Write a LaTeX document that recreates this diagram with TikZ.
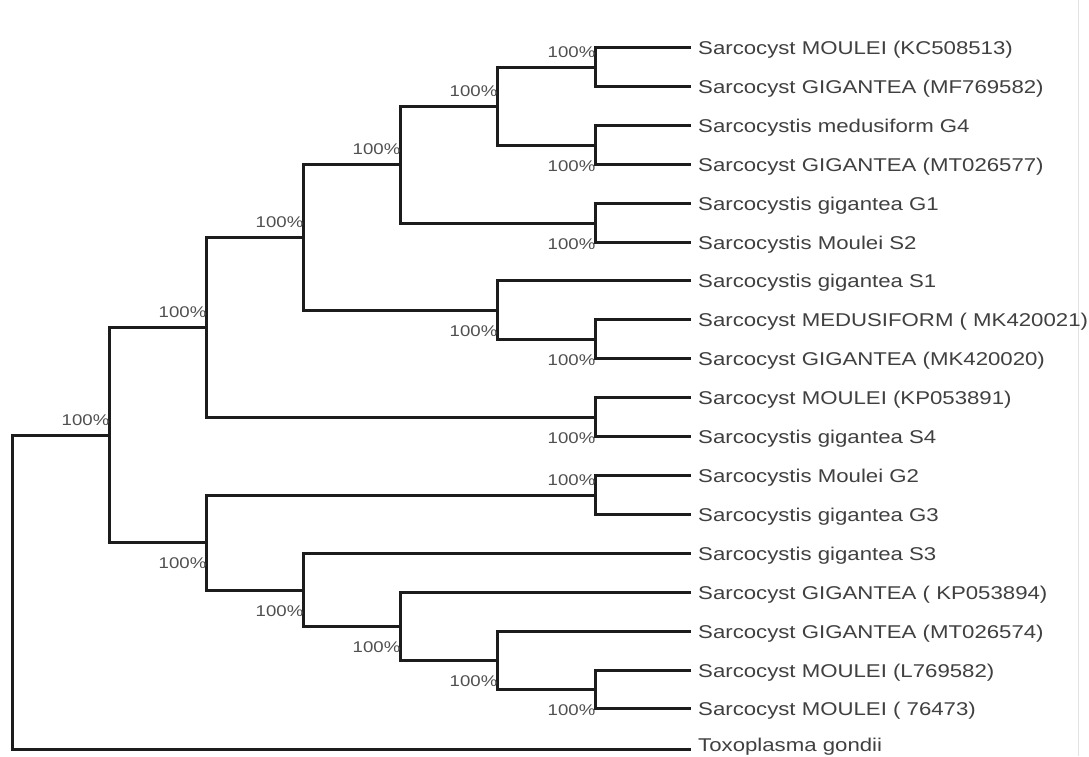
\documentclass[tikz,border=0pt]{standalone}
\usepackage{fontspec}
\setmainfont{Liberation Sans}[FakeStretch=1.2]
\usetikzlibrary{calc}
\definecolor{branchcol}{HTML}{1C1C1C}
\definecolor{taxoncol}{HTML}{404040}
\definecolor{supportcol}{HTML}{505050}
\definecolor{framecol}{HTML}{E2E2E2}
\tikzset{
  branch/.style={draw=branchcol, line width=2.8pt, line join=miter},
  taxon/.style={anchor=west, inner xsep=7pt, inner ysep=0pt, text height=13.4pt, text depth=0pt,
    text=taxoncol, font=\fontsize{18.5}{20}\selectfont},
  support/.style={anchor=east, inner sep=0pt, text height=11.1pt, text depth=0pt,
    text=supportcol, font=\fontsize{15.5}{17}\selectfont},
}
\begin{document}
\begin{tikzpicture}[x=1pt,y=-1pt]
\useasboundingbox (0,0) rectangle (1089,756);
\fill[white] (0,0) rectangle (1089,756);
\draw[framecol, line width=1pt] (1078.5,0) -- (1078.5,756);

% tips
\def\tipx{691}
\node[taxon] (t1)  at (\tipx, 47.5) {Sarcocyst MOULEI (KC508513)};
\node[taxon] (t2)  at (\tipx, 86.5) {Sarcocyst GIGANTEA (MF769582)};
\node[taxon] (t3)  at (\tipx,125.5) {Sarcocystis medusiform G4};
\node[taxon] (t4)  at (\tipx,164.5) {Sarcocyst GIGANTEA (MT026577)};
\node[taxon] (t5)  at (\tipx,203.5) {Sarcocystis gigantea G1};
\node[taxon] (t6)  at (\tipx,242.5) {Sarcocystis Moulei S2};
\node[taxon] (t7)  at (\tipx,280.5) {Sarcocystis gigantea S1};
\node[taxon] (t8)  at (\tipx,319.5) {Sarcocyst MEDUSIFORM ( MK420021)};
\node[taxon] (t9)  at (\tipx,358.5) {Sarcocyst GIGANTEA (MK420020)};
\node[taxon] (t10) at (\tipx,397.5) {Sarcocyst MOULEI (KP053891)};
\node[taxon] (t11) at (\tipx,436.5) {Sarcocystis gigantea S4};
\node[taxon] (t12) at (\tipx,475.5) {Sarcocystis Moulei G2};
\node[taxon] (t13) at (\tipx,514.5) {Sarcocystis gigantea G3};
\node[taxon] (t14) at (\tipx,553.5) {Sarcocystis gigantea S3};
\node[taxon] (t15) at (\tipx,592.5) {Sarcocyst GIGANTEA ( KP053894)};
\node[taxon] (t16) at (\tipx,631.5) {Sarcocyst GIGANTEA (MT026574)};
\node[taxon] (t17) at (\tipx,670.5) {Sarcocyst MOULEI (L769582)};
\node[taxon] (t18) at (\tipx,708.5) {Sarcocyst MOULEI ( 76473)};
\node[taxon, text depth=9pt] (t19) at (\tipx,749.5) {Toxoplasma gondii};

% internal nodes (depth columns)
\coordinate (nA) at (595.5, 67.5);
\coordinate (nB) at (595.5,145.5);
\coordinate (nC) at (497.5,106.5);
\coordinate (nD) at (595.5,223.5);
\coordinate (nE) at (400.5,164.5);
\coordinate (nF) at (595.5,339.5);
\coordinate (nG) at (497.5,310.5);
\coordinate (nH) at (303.5,237.5);
\coordinate (nI) at (595.5,417.5);
\coordinate (nJ) at (206.5,327.5);
\coordinate (nK) at (595.5,495.5);
\coordinate (nL) at (595.5,689.5);
\coordinate (nM) at (497.5,660.5);
\coordinate (nN) at (400.5,626.5);
\coordinate (nO) at (303.5,590.5);
\coordinate (nP) at (206.5,542.5);
\coordinate (nQ) at (109.5,435.5);
\coordinate (nR) at ( 12.5,592.5);

% branches
\draw[branch] (t1.west) -| (nA) |- (t2.west);
\draw[branch] (t3.west) -| (nB) |- (t4.west);
\draw[branch] (nA) -| (nC) |- (nB);
\draw[branch] (t5.west) -| (nD) |- (t6.west);
\draw[branch] (nC) -| (nE) |- (nD);
\draw[branch] (t8.west) -| (nF) |- (t9.west);
\draw[branch] (t7.west) -| (nG) |- (nF);
\draw[branch] (nE) -| (nH) |- (nG);
\draw[branch] (t10.west) -| (nI) |- (t11.west);
\draw[branch] (nH) -| (nJ) |- (nI);
\draw[branch] (t12.west) -| (nK) |- (t13.west);
\draw[branch] (t17.west) -| (nL) |- (t18.west);
\draw[branch] (t16.west) -| (nM) |- (nL);
\draw[branch] (t15.west) -| (nN) |- (nM);
\draw[branch] (t14.west) -| (nO) |- (nN);
\draw[branch] (nK) -| (nP) |- (nO);
\draw[branch] (nJ) -| (nQ) |- (nP);
\draw[branch] (nQ) -| (nR) |- (t19.west);

% bootstrap support values
\node[support] (sA) at ($(nA)+(0,-16)$) {100\%};
\node[support] (sB) at ($(nB)+(0,20)$)  {100\%};
\node[support] (sC) at ($(nC)+(0,-16)$) {100\%};
\node[support] (sD) at ($(nD)+(0,20)$)  {100\%};
\node[support] (sE) at ($(nE)+(0,-16)$) {100\%};
\node[support] (sF) at ($(nF)+(0,20)$)  {100\%};
\node[support] (sG) at ($(nG)+(0,20)$)  {100\%};
\node[support] (sH) at ($(nH)+(0,-16)$) {100\%};
\node[support] (sI) at ($(nI)+(0,20)$)  {100\%};
\node[support] (sJ) at ($(nJ)+(0,-16)$) {100\%};
\node[support] (sK) at ($(nK)+(0,-16)$) {100\%};
\node[support] (sL) at ($(nL)+(0,20)$)  {100\%};
\node[support] (sM) at ($(nM)+(0,20)$)  {100\%};
\node[support] (sN) at ($(nN)+(0,20)$)  {100\%};
\node[support] (sO) at ($(nO)+(0,20)$)  {100\%};
\node[support] (sP) at ($(nP)+(0,20)$)  {100\%};
\node[support] (sQ) at ($(nQ)+(0,-16)$) {100\%};
\end{tikzpicture}
\end{document}
